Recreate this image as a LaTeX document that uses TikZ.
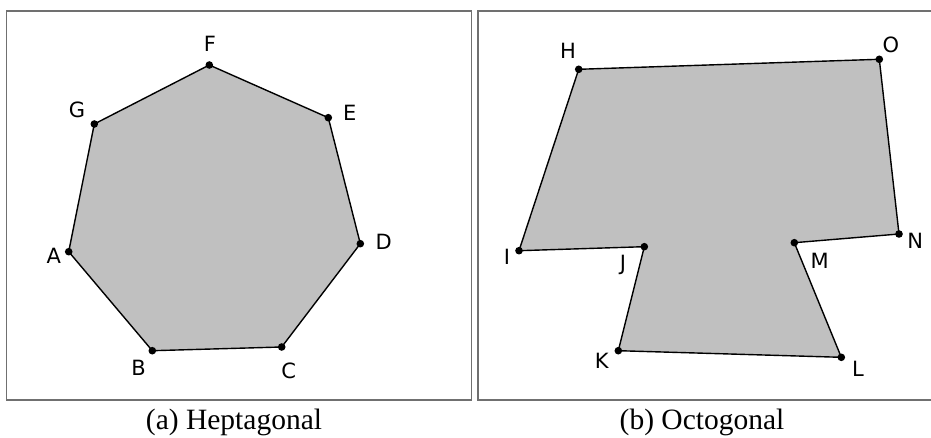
\documentclass[tikz,border=0pt]{standalone}
\usepackage{fontspec}
\setmainfont{Liberation Serif}
\newfontfamily\lblfont{DejaVu Sans}
\definecolor{polyfill}{HTML}{C0C0C0}
\definecolor{framegray}{HTML}{707070}
\tikzset{
  frameline/.style={draw=framegray, line width=1.8pt},
  poly/.style={fill=polyfill, draw=black, line width=1.4pt, line join=miter},
  vlabel/.style={anchor=base, inner sep=0pt, font=\lblfont\fontsize{21}{25}\selectfont},
  caption/.style={anchor=base, inner sep=0pt, font=\fontsize{29.5}{34}\selectfont},
  vdot/.style={fill=black}
}
\begin{document}
\begin{tikzpicture}[x=1pt, y=-1pt]
\useasboundingbox (0,0) rectangle (931,438);
% frames
\draw[frameline] (6.5,11) rectangle (471.5,400);
\draw[frameline] (933,11) -- (477.7,11) -- (477.7,400) -- (933,400);
% heptagon
\coordinate (A) at (68.7,251.7);
\coordinate (B) at (152.3,350.7);
\coordinate (C) at (281.7,347);
\coordinate (D) at (360.3,243.7);
\coordinate (E) at (328.3,117.7);
\coordinate (F) at (209.3,65);
\coordinate (G) at (94.3,124);
\draw[poly] (A) -- (B) -- (C) -- (D) -- (E) -- (F) -- (G) -- cycle;
\foreach \p in {A,B,C,D,E,F,G} \fill[vdot] (\p) circle (3.8pt);
\node[vlabel] (lA) at (53.8,264) {A};
\node[vlabel] (lB) at (138.7,375) {B};
\node[vlabel] (lC) at (288.8,378.3) {C};
\node[vlabel] (lD) at (383.8,250) {D};
\node[vlabel] (lE) at (349.7,120.7) {E};
\node[vlabel] (lF) at (210,51.7) {F};
\node[vlabel] (lG) at (77,117.3) {G};
% octagon
\coordinate (H) at (578.7,69.3);
\coordinate (I) at (519,250.7);
\coordinate (J) at (644.3,246.7);
\coordinate (K) at (618.3,350.7);
\coordinate (L) at (841.3,357.3);
\coordinate (M) at (794.3,242.7);
\coordinate (N) at (899,234);
\coordinate (O) at (879.3,59.3);
\draw[poly] (H) -- (I) -- (J) -- (K) -- (L) -- (M) -- (N) -- (O) -- cycle;
\foreach \p in {H,I,J,K,L,M,N,O} \fill[vdot] (\p) circle (3.8pt);
\node[vlabel] (lH) at (568,58.3) {H};
\node[vlabel] (lI) at (507,264.3) {I};
\node[vlabel] (lJ) at (623,271) {J};
\node[vlabel] (lK) at (601.7,368.3) {K};
\node[vlabel] (lL) at (858,376) {L};
\node[vlabel] (lM) at (819.7,268.3) {M};
\node[vlabel] (lN) at (915.3,248.3) {N};
\node[vlabel] (lO) at (890.8,52.3) {O};
% captions
\node[caption] (capa) at (234,429) {(a) Heptagonal};
\node[caption] (capb) at (702,429) {(b) Octogonal};
\end{tikzpicture}
\end{document}
